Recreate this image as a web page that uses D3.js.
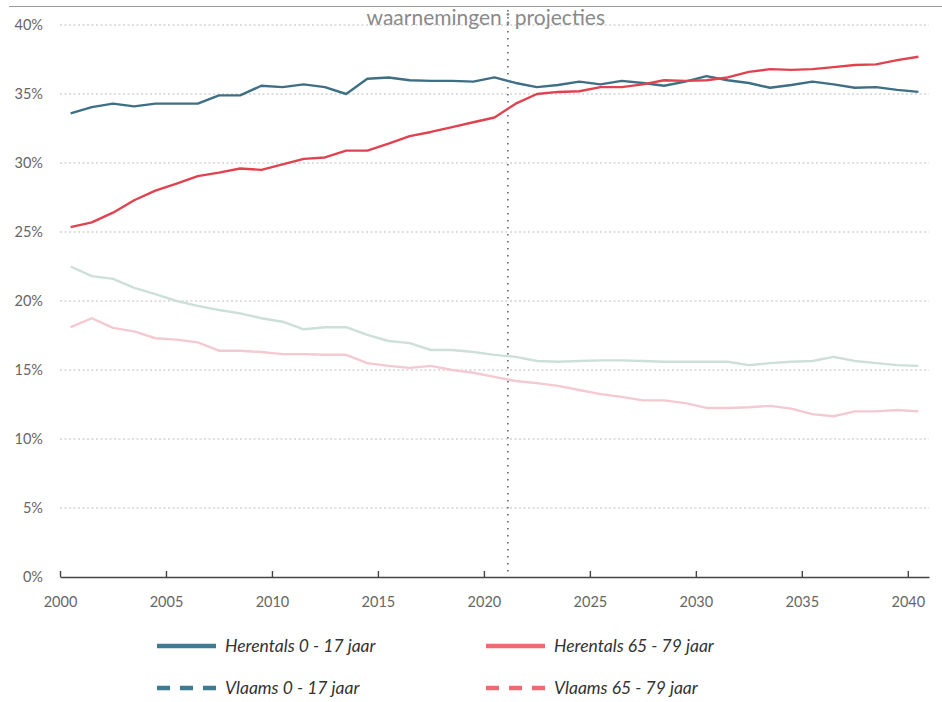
<!DOCTYPE html>
<html lang="en">
<head>
  <meta charset="utf-8">
  <title>Herentals leeftijdsgroepen</title>
  <style>
    body { margin: 0; background: #fff; }
    .tick text { font-family: Lato, "Open Sans", sans-serif; fill: #666; }
    .legend text { font-family: Lato, "Open Sans", sans-serif; font-style: italic; fill: #333; }
  </style>
</head>
<body>
<script src="https://d3js.org/d3.v7.min.js"></script>
<svg></svg>
<script>

// years of the series (points sit in the middle of each year)
var years = d3.range(2000, 2041);

var herentals017 = [33.6,34.05,34.3,34.1,34.3,34.3,34.3,34.9,34.9,35.6,35.5,35.7,35.5,35.0,36.1,36.2,36.0,35.95,35.95,35.9,
  36.2,35.8,35.5,35.65,35.9,35.7,35.95,35.8,35.6,35.9,36.3,36.0,35.8,35.45,35.65,35.9,35.7,35.45,35.5,35.3,35.15];
var herentals6579 = [25.35,25.7,26.4,27.3,28.0,28.5,29.05,29.3,29.6,29.5,29.9,30.3,30.4,30.9,30.9,31.4,31.95,32.25,32.6,32.95,
  33.3,34.3,35.0,35.15,35.2,35.5,35.5,35.7,36.0,35.95,36.0,36.2,36.6,36.8,36.75,36.8,36.95,37.1,37.15,37.45,37.7];
var vlaams017 = [22.5,21.8,21.6,20.95,20.5,20.0,19.65,19.35,19.1,18.75,18.5,17.95,18.1,18.1,17.55,17.1,16.95,16.45,16.45,16.3,
  16.1,15.95,15.65,15.6,15.65,15.7,15.7,15.65,15.6,15.6,15.6,15.6,15.35,15.5,15.6,15.65,15.95,15.65,15.5,15.35,15.3];
var vlaams6579 = [18.1,18.75,18.05,17.8,17.3,17.2,17.0,16.4,16.4,16.3,16.15,16.15,16.1,16.1,15.5,15.3,15.15,15.3,15.0,14.8,
  14.5,14.2,14.05,13.85,13.55,13.25,13.05,12.8,12.8,12.6,12.25,12.25,12.3,12.4,12.2,11.8,11.65,12.0,12.0,12.1,12.0];

var yTicks = [0, 5, 10, 15, 20, 25, 30, 35, 40];
var xTicks = [2000, 2005, 2010, 2015, 2020, 2025, 2030, 2035, 2040];
var dividerYear = 2021.13; // waarnemingen / projecties

var width = 942, height = 702;

var svg = d3.select('svg')
            .attr('width', width)
            .attr('height', height);

var xScale = d3.scaleLinear().domain([2000, 2041]).range([60, 929]);
var yScale = d3.scaleLinear().domain([0, 40]).range([577, 25]);

// thin frame line at the very top
svg.append('line')
   .attr('x1', 9).attr('x2', width)
   .attr('y1', 6.5).attr('y2', 6.5)
   .attr('stroke', '#9a9a9a')
   .attr('stroke-width', 1.2);

// horizontal dotted gridlines
svg.append('g')
   .selectAll('line')
   .data(yTicks.filter(function(d) { return d > 0; }))
   .enter()
   .append('line')
   .attr('x1', xScale(2000)).attr('x2', xScale(2041))
   .attr('y1', function(d) { return yScale(d); })
   .attr('y2', function(d) { return yScale(d); })
   .attr('stroke', '#bdbdbd')
   .attr('stroke-width', 1)
   .attr('stroke-dasharray', '2,2.5');

// y axis labels (no axis line)
var yAxis = svg.append('g')
   .attr('transform', 'translate(60,0)')
   .call(d3.axisLeft(yScale).tickValues(yTicks).tickSize(0).tickPadding(17)
          .tickFormat(function(d) { return d + '%'; }));
yAxis.select('.domain').remove();
yAxis.selectAll('text').attr('font-size', '14.5px');

// vertical divider
svg.append('line')
   .attr('x1', xScale(dividerYear)).attr('x2', xScale(dividerYear))
   .attr('y1', 10).attr('y2', yScale(0))
   .attr('stroke', '#666')
   .attr('stroke-width', 1.6)
   .attr('stroke-dasharray', '1.5,5.5');

var headFont = 'Lato, "Open Sans", sans-serif';
svg.append('text')
   .attr('x', xScale(dividerYear) - 6).attr('y', 25)
   .attr('text-anchor', 'end')
   .attr('font-family', headFont)
   .attr('font-size', '21px')
   .attr('fill', '#8a8a8a')
   .text('waarnemingen');
svg.append('text')
   .attr('x', xScale(dividerYear)).attr('y', 24)
   .attr('text-anchor', 'middle')
   .attr('font-family', headFont)
   .attr('font-size', '21px')
   .attr('fill', '#8a8a8a')
   .text(':');
svg.append('text')
   .attr('x', xScale(dividerYear) + 7).attr('y', 25)
   .attr('text-anchor', 'start')
   .attr('font-family', headFont)
   .attr('font-size', '21px')
   .attr('fill', '#8a8a8a')
   .text('projecties');

// lines
var series = [
  { name: 'Vlaams 0 - 17 jaar', values: vlaams017, color: '#cddfdb' },
  { name: 'Vlaams 65 - 79 jaar', values: vlaams6579, color: '#f4c9d1' },
  { name: 'Herentals 0 - 17 jaar', values: herentals017, color: '#3e6f85' },
  { name: 'Herentals 65 - 79 jaar', values: herentals6579, color: '#e0434f' }
];

var line = d3.line()
   .x(function(d, i) { return xScale(years[i] + 0.5); })
   .y(function(d) { return yScale(d); });

svg.append('g')
   .selectAll('path')
   .data(series)
   .enter()
   .append('path')
   .attr('d', function(s) { return line(s.values); })
   .attr('fill', 'none')
   .attr('stroke', function(s) { return s.color; })
   .attr('stroke-width', 2.4)
   .attr('stroke-linejoin', 'round');

// x axis, ticks pointing upward
var xAxis = svg.append('g')
   .attr('transform', 'translate(0,' + yScale(0) + ')')
   .call(d3.axisBottom(xScale).tickValues(xTicks).tickSizeInner(-6).tickSizeOuter(0)
          .tickPadding(20).tickFormat(d3.format('d')));
xAxis.select('.domain').attr('stroke', '#444').attr('stroke-width', 1.4);
xAxis.selectAll('.tick line').attr('stroke', '#444').attr('stroke-width', 1.4);
xAxis.selectAll('text').attr('font-size', '14.5px');

// legend
var legendItems = [
  { name: 'Herentals 0 - 17 jaar', color: '#3e7a92', dash: null, x: 157, y: 646 },
  { name: 'Herentals 65 - 79 jaar', color: '#ef6b74', dash: null, x: 486, y: 646 },
  { name: 'Vlaams 0 - 17 jaar', color: '#3e7a92', dash: '13,10', x: 157, y: 688 },
  { name: 'Vlaams 65 - 79 jaar', color: '#ef6b74', dash: '13,10', x: 486, y: 688 }
];

var legend = svg.append('g').attr('class', 'legend');
var li = legend.selectAll('g')
   .data(legendItems)
   .enter()
   .append('g')
   .attr('transform', function(d) { return 'translate(' + d.x + ',' + d.y + ')'; });
li.append('line')
   .attr('x1', 0).attr('x2', 59)
   .attr('y1', 0).attr('y2', 0)
   .attr('stroke', function(d) { return d.color; })
   .attr('stroke-width', 4.5)
   .attr('stroke-dasharray', function(d) { return d.dash; });
li.append('text')
   .attr('x', 68).attr('y', 5.5)
   .attr('font-size', '17.5px')
   .text(function(d) { return d.name; });

</script>
</body>
</html>
